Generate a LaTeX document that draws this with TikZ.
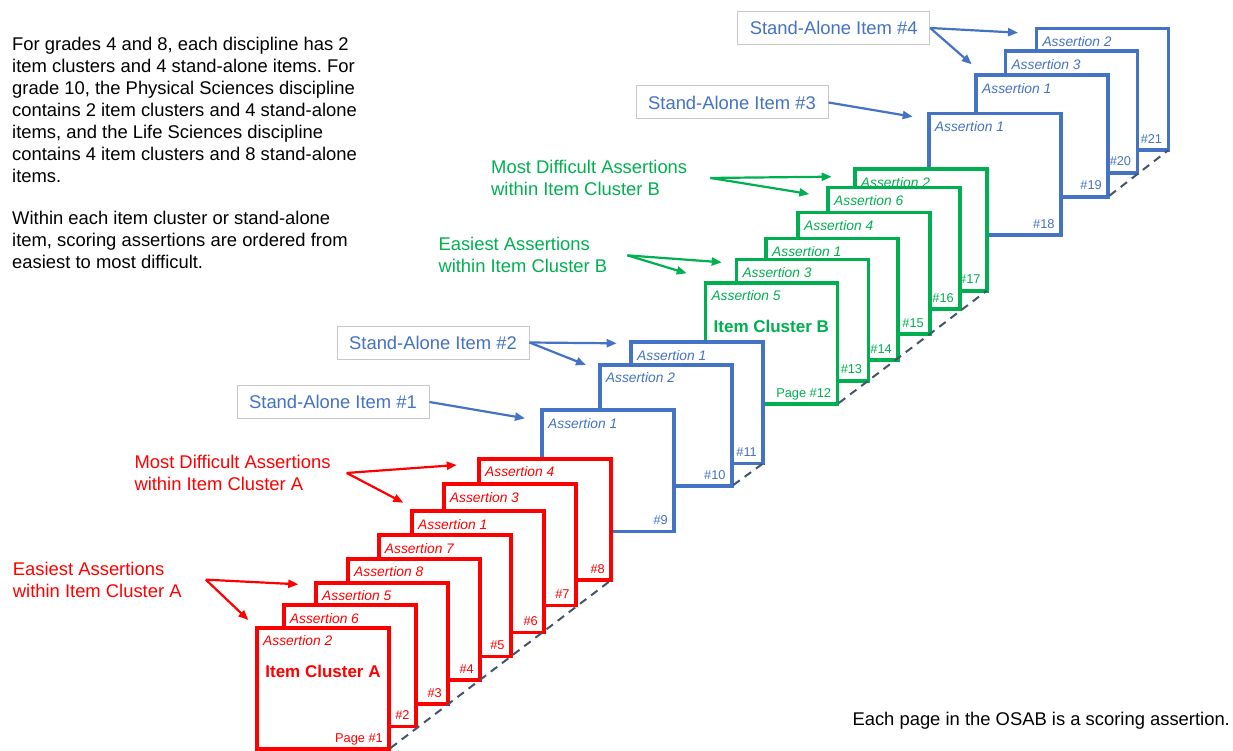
\documentclass[tikz,border=0pt]{standalone}
\usepackage{fontspec}
\setmainfont{Liberation Sans}
\usetikzlibrary{arrows.meta}
\definecolor{sred}{HTML}{FF0000}
\definecolor{sblue}{HTML}{4472C4}
\definecolor{sgreen}{HTML}{00B050}
\definecolor{sdash}{HTML}{44546A}
\definecolor{sbox}{HTML}{C8C8C8}
\frenchspacing

\begin{document}
\begin{tikzpicture}[x=1pt, y=-1pt,
  sheet/.style={draw=#1, line width=3.6pt, fill=white, outer sep=0pt, inner sep=0pt,
    minimum width=132pt, minimum height=121.5pt, anchor=north west},
  assertlbl/.style={font=\fontsize{13.8}{15}\selectfont\itshape, inner sep=0pt, anchor=base west},
  sheetnum/.style={font=\fontsize{12.8}{15}\selectfont, inner sep=0pt, anchor=base east},
  clusterlbl/.style={font=\fontsize{17}{20}\selectfont\bfseries, inner sep=0pt, anchor=base},
  itembox/.style={draw=sbox, line width=1pt, fill=white, text=sblue,
    font=\fontsize{18.4}{22}\selectfont, minimum width=192pt, minimum height=33pt, inner sep=0pt},
  remark/.style={font=\fontsize{18.4}{22}\selectfont, align=left, inner sep=0pt},
  pointer/.style={line width=2.2pt, -{Triangle[length=10pt,width=8pt]}},
  stackline/.style={draw=sdash, line width=2pt, dash pattern=on 8pt off 6pt, shorten <=2pt}]
  \useasboundingbox (0,0) rectangle (1233,751);

  \node[remark, anchor=north west] (intro) at (12,36.6) {%
    For grades 4 and 8, each discipline has 2\\
    item clusters and 4 stand-alone items. For\\
    grade 10, the Physical Sciences discipline\\
    contains 2 item clusters and 4 stand-alone\\
    items, and the Life Sciences discipline\\
    contains 4 item clusters and 8 stand-alone\\
    items.\\[20pt]
    Within each item cluster or stand-alone\\
    item, scoring assertions are ordered from\\
    easiest to most difficult.};

  % pages, back to front
  \foreach \n/\x/\y/\a/\c in {
      21/1036.3/28.7/2/sblue, 20/1005.3/51.3/3/sblue, 19/976/75.3/1/sblue, 18/928.7/113.7/1/sblue,
      17/854.7/169.3/2/sgreen, 16/828/187.7/6/sgreen, 15/798/212.7/4/sgreen,
      14/766/238.7/1/sgreen, 13/736.3/259.3/3/sgreen, 12/705.3/282.7/5/sgreen,
      11/631/342/1/sblue, 10/599.7/364.7/2/sblue, 9/542/410/1/sblue,
      8/479/458.7/4/sred, 7/443.7/484/3/sred, 6/412/511/1/sred, 5/378.7/535/7/sred,
      4/348/558.7/8/sred, 3/316/582.7/5/sred, 2/283.7/605/6/sred, 1/257/627.7/2/sred}{
    \node[sheet=\c] (p\n) at (\x,\y) {};
    \node[assertlbl, text=\c] (a\n) at ([shift={(6,18)}]p\n.north west) {Assertion \a};
    \node[sheetnum, text=\c] (n\n) at ([shift={(-6,-7)}]p\n.south east)
      {\ifnum\n=1 Page \fi\ifnum\n=12 Page \fi\#\n};
  }
  \node[clusterlbl, text=sred] (clA) at ([shift={(0,50)}]p1.north) {Item Cluster A};
  \node[clusterlbl, text=sgreen] (clB) at ([shift={(0,49.6)}]p12.north) {Item Cluster B};

  \draw[stackline] (p1.south east) -- (p8.south east);
  \draw[stackline] (p10.south east) -- (p11.south east);
  \draw[stackline] (p12.south east) -- (p17.south east);
  \draw[stackline] (p19.south east) -- (p21.south east);

  \node[itembox] (sa1) at (333,402) {Stand-Alone Item \#1};
  \node[itembox] (sa2) at (433,342.5) {Stand-Alone Item \#2};
  \node[itembox] (sa3) at (732,102.5) {Stand-Alone Item \#3};
  \node[itembox] (sa4) at (833.7,28) {Stand-Alone Item \#4};

  \node[remark, text=sred, anchor=north west] (hardA) at (134.3,455)
    {Most Difficult Assertions\\within Item Cluster A};
  \node[remark, text=sred, anchor=north west] (easyA) at (12.7,561.7)
    {Easiest Assertions\\within Item Cluster A};
  \node[remark, text=sgreen, anchor=north west] (hardB) at (491,160)
    {Most Difficult Assertions\\within Item Cluster B};
  \node[remark, text=sgreen, anchor=north west] (easyB) at (438.3,237.4)
    {Easiest Assertions\\within Item Cluster B};
  \node[remark, anchor=base west] (foot) at (852.3,725)
    {Each page in the OSAB is a scoring assertion.};

  \coordinate (t21) at (1018,32.7);
  \coordinate (t19) at (971.7,64.3);
  \coordinate (t18) at (912.7,116.7);
  \coordinate (t11) at (616.7,343.3);
  \coordinate (t10) at (586,365);
  \coordinate (t9) at (525,418.3);
  \coordinate (tA8) at (456.7,465);
  \coordinate (tA7) at (403.3,502.7);
  \coordinate (tA3) at (298.3,584.3);
  \coordinate (tA1) at (248.3,620);
  \coordinate (tB17) at (831.7,176.7);
  \coordinate (tB16) at (809.3,194);
  \coordinate (tB14) at (721.7,262.3);
  \coordinate (tB12) at (686.7,273.3);

  \draw[pointer, sblue] (sa4.east) -- (t21);
  \draw[pointer, sblue] (sa4.east) -- (t19);
  \draw[pointer, sblue] (sa3.east) -- (t18);
  \draw[pointer, sblue] (sa2.east) -- (t11);
  \draw[pointer, sblue] (sa2.east) -- (t10);
  \draw[pointer, sblue] (sa1.east) -- (t9);
  \draw[pointer, sred] ([xshift=16pt]hardA.east) -- (tA8);
  \draw[pointer, sred] ([xshift=16pt]hardA.east) -- (tA7);
  \draw[pointer, sred] ([xshift=24pt]easyA.east) -- (tA3);
  \draw[pointer, sred] ([xshift=24pt]easyA.east) -- (tA1);
  \draw[pointer, sgreen] ([xshift=23pt]hardB.east) -- (tB17);
  \draw[pointer, sgreen] ([xshift=23pt]hardB.east) -- (tB16);
  \draw[pointer, sgreen] ([xshift=20pt]easyB.east) -- (tB14);
  \draw[pointer, sgreen] ([xshift=20pt]easyB.east) -- (tB12);
\end{tikzpicture}
\end{document}
